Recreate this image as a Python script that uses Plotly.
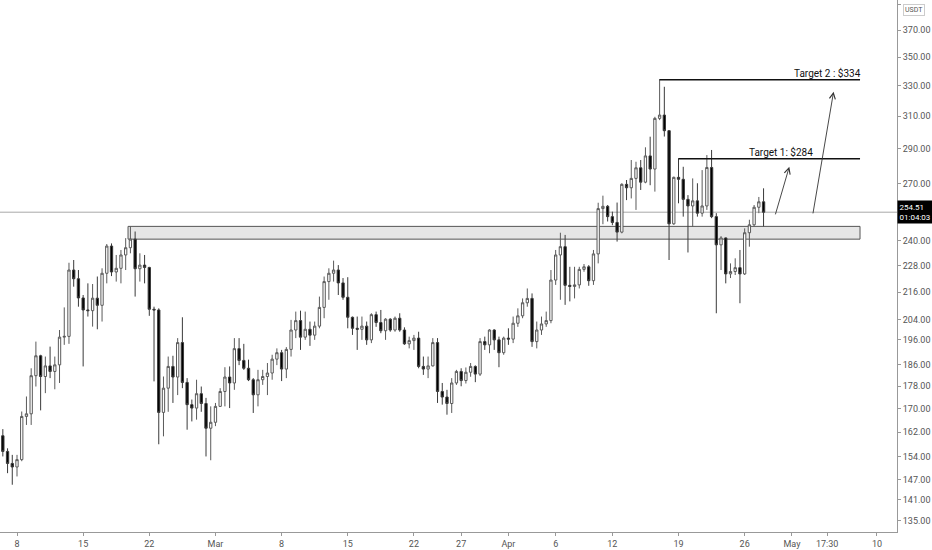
import numpy as np
import pandas as pd
import plotly.graph_objects as go

# 12h-Kerzen, erste sichtbare Kerze 6. Feb 2021 12:00
start = "2021-02-06 12:00"

opens = [160.8, 155.7, 151.9, 150.8, 153.1, 167.3, 168.2, 181.9, 189.5, 181.6,
         185.6, 183.5, 186.0, 196.9, 197.2, 226.0, 222.0, 213.4, 208.2, 207.9,
         213.3, 210.2, 224.5, 237.4, 225.1, 226.8, 233.1, 236.6, 240.8, 226.6,
         228.3, 227.2, 208.5, 208.2, 168.7, 177.3, 185.4, 181.4, 194.7, 179.4,
         171.4, 170.2, 175.3, 171.8, 163.3, 165.3, 170.8, 176.1, 181.4, 179.2,
         192.3, 187.7, 184.7, 180.4, 174.9, 180.4, 181.6, 182.9, 188.2, 190.7,
         184.4, 192.0, 199.8, 203.7, 196.9, 200.1, 197.7, 201.4, 209.3, 220.7,
         224.5, 226.0, 220.1, 213.7, 205.1, 200.5, 200.1, 201.4, 195.8, 206.2,
         202.9, 199.5, 204.3, 199.8, 204.7, 199.8, 194.2, 195.5, 196.5, 185.4,
         184.4, 185.6, 194.7, 176.1, 174.1, 171.8, 179.2, 183.5, 180.1, 183.2,
         185.4, 182.5, 195.1, 193.8, 199.8, 195.8, 190.7, 196.5, 196.1, 202.6,
         205.7, 211.3, 213.2, 195.1, 199.8, 202.3, 203.7, 221.4, 233.1, 237.1,
         219.0, 218.5, 219.2, 226.3, 227.5, 221.1, 233.6, 256.4, 257.6, 252.2,
         249.2, 244.3, 269.5, 267.6, 272.8, 278.8, 270.7, 285.7, 278.1, 308.6,
         310.7, 300.9, 248.5, 273.4, 272.3, 261.3, 257.8, 260.5, 254.0, 257.8,
         279.0, 252.2, 238.0, 241.4, 224.2, 225.3, 227.1, 224.2, 244.0, 248.0,
         257.1, 260.0]

highs = [163.0, 156.7, 154.6, 154.6, 169.0, 174.3, 184.7, 195.1, 189.9, 189.2,
         193.1, 189.2, 199.8, 209.3, 229.4, 230.7, 226.0, 214.7, 219.9, 219.6,
         223.0, 226.8, 238.4, 238.7, 233.1, 235.5, 241.3, 247.2, 244.6, 233.9,
         233.1, 227.5, 209.6, 208.9, 181.6, 189.2, 189.5, 196.5, 205.1, 181.0,
         173.2, 180.4, 177.9, 173.8, 170.8, 172.0, 177.3, 185.1, 185.4, 196.5,
         196.5, 194.2, 188.0, 181.0, 184.1, 184.1, 186.7, 189.9, 192.4, 191.8,
         192.9, 204.0, 207.5, 207.9, 207.5, 203.3, 203.3, 214.0, 223.0, 226.8,
         230.4, 228.3, 222.3, 222.7, 205.4, 205.4, 205.4, 203.3, 206.8, 207.5,
         208.2, 204.7, 204.7, 205.4, 206.8, 200.9, 197.1, 197.8, 199.1, 189.2,
         189.2, 196.5, 196.5, 179.2, 176.7, 181.0, 184.1, 184.7, 185.0, 186.7,
         185.8, 196.5, 197.1, 200.1, 200.1, 197.1, 197.1, 200.5, 205.4, 208.9,
         213.2, 217.6, 215.4, 203.3, 205.4, 207.5, 226.0, 235.5, 244.0, 242.9,
         227.5, 227.5, 227.5, 228.8, 228.3, 235.5, 259.5, 263.3, 258.3, 254.8,
         259.6, 270.1, 271.9, 283.3, 282.3, 283.3, 290.8, 297.2, 309.6, 334.5,
         329.3, 301.3, 273.8, 284.3, 279.4, 263.6, 272.8, 270.1, 277.5, 286.2,
         289.2, 254.0, 242.3, 241.6, 229.1, 231.5, 235.5, 246.2, 250.6, 258.3,
         262.6, 267.3]

lows = [154.1, 148.9, 145.4, 147.9, 152.6, 164.4, 164.4, 177.9, 169.4, 175.5,
        181.0, 176.9, 179.2, 193.8, 194.2, 218.4, 209.6, 185.4, 205.4, 201.2,
        200.1, 203.3, 219.9, 223.2, 220.7, 219.9, 226.0, 233.9, 214.0, 220.7,
        219.9, 205.7, 179.8, 158.0, 160.6, 168.9, 172.0, 174.8, 177.3, 162.8,
        165.6, 166.2, 168.9, 154.1, 152.9, 164.0, 170.6, 170.8, 170.2, 176.7,
        185.9, 184.1, 179.9, 168.5, 170.8, 178.5, 174.8, 180.4, 185.9, 179.9,
        181.0, 189.2, 196.5, 191.8, 195.8, 193.4, 195.8, 200.5, 204.7, 212.6,
        220.7, 214.7, 212.6, 200.5, 197.8, 191.8, 195.8, 193.8, 194.5, 201.1,
        198.5, 195.8, 199.1, 199.1, 199.1, 193.8, 192.4, 191.8, 184.7, 182.2,
        181.0, 185.4, 172.0, 171.4, 167.9, 168.5, 178.5, 178.0, 179.0, 181.5,
        179.5, 181.8, 191.8, 190.5, 191.8, 185.1, 189.9, 193.8, 194.5, 201.1,
        204.7, 209.6, 193.0, 192.4, 197.8, 201.1, 202.6, 219.2, 212.6, 210.4,
        211.9, 213.2, 217.6, 225.2, 218.8, 219.2, 229.1, 248.3, 249.7, 247.8,
        239.6, 243.7, 260.9, 261.8, 255.7, 266.4, 270.1, 269.0, 265.5, 307.5,
        297.3, 230.7, 248.0, 259.2, 252.2, 234.3, 247.0, 252.2, 252.2, 255.7,
        251.4, 206.8, 226.0, 219.9, 222.3, 223.7, 211.1, 223.7, 237.1, 247.2,
        254.0, 247.2]

closes = [155.7, 151.9, 150.8, 153.1, 167.3, 168.2, 181.9, 189.5, 181.6, 185.6,
          183.5, 186.0, 196.9, 197.2, 226.0, 222.0, 213.4, 208.2, 207.9, 213.3,
          210.2, 224.5, 237.4, 225.1, 226.8, 233.1, 236.6, 240.8, 226.6, 228.3,
          227.2, 208.5, 208.2, 168.7, 177.3, 185.4, 181.4, 194.7, 179.4, 171.4,
          170.2, 175.3, 171.8, 163.3, 165.3, 170.8, 176.1, 181.4, 179.2, 192.3,
          187.7, 184.7, 180.4, 174.9, 180.4, 181.6, 182.9, 188.2, 190.7, 184.4,
          192.0, 199.8, 203.7, 196.9, 200.1, 197.7, 201.4, 209.3, 220.7, 224.5,
          226.0, 220.1, 213.7, 205.1, 200.5, 200.1, 201.4, 195.8, 206.2, 202.9,
          199.5, 204.3, 199.8, 204.7, 199.8, 194.2, 195.5, 196.5, 185.4, 184.4,
          185.6, 194.7, 176.1, 174.1, 171.8, 179.2, 183.5, 180.1, 183.2, 185.4,
          182.5, 195.1, 193.8, 199.8, 195.8, 190.7, 196.5, 196.1, 202.6, 205.7,
          211.3, 213.2, 195.1, 199.8, 202.3, 203.7, 221.4, 233.1, 237.1, 219.0,
          218.5, 219.2, 226.3, 227.5, 221.1, 233.6, 256.4, 257.6, 252.2, 249.2,
          244.3, 269.5, 267.6, 272.8, 278.8, 270.7, 285.7, 278.1, 308.6, 310.7,
          300.9, 248.5, 273.4, 272.3, 261.3, 257.8, 260.5, 254.0, 257.8, 279.0,
          252.2, 238.0, 241.4, 224.2, 225.3, 227.1, 224.2, 244.0, 248.0, 257.1,
          260.0, 254.51]

times = pd.date_range(start, periods=len(closes), freq="12h")

# Achsenbeschriftungen
y_ticks = [135, 141, 147, 154, 162, 170, 178, 186, 196, 204, 216, 228, 240,
           270, 290, 310, 330, 350, 370, 390]
x_tick_dates = ["2021-02-08", "2021-02-15", "2021-02-22", "2021-03-01",
                "2021-03-08", "2021-03-15", "2021-03-22", "2021-03-27",
                "2021-04-01", "2021-04-06", "2021-04-12", "2021-04-19",
                "2021-04-26", "2021-05-01", "2021-05-04 17:30", "2021-05-10"]
x_tick_text = ["8", "15", "22", "Mar", "8", "15", "22", "27", "Apr", "6",
               "12", "19", "26", "May", "17:30", "10"]

# Zeichnungen
last_price = 254.51
countdown = "01:04:03"
zone_low, zone_high = 240.8, 247.2
zone_start, zone_end = "2021-02-19 18:00", "2021-05-08 05:00"
target1, target1_start = 284, "2021-04-19 00:00"
target2, target2_start = 334, "2021-04-17 00:00"
arrows = [  # (Start, Startpreis, Spitze, Spitzenpreis)
    ("2021-04-29 05:00", 252.6, "2021-04-30 17:20", 279.4),
    ("2021-05-03 04:50", 253.1, "2021-05-05 09:50", 326.0),
]

font_family = "Liberation Sans Narrow, Roboto, sans-serif"

fig = go.Figure()
fig.add_trace(go.Candlestick(
    x=times, open=opens, high=highs, low=lows, close=closes,
    increasing=dict(line=dict(color="#5a5a5a", width=1), fillcolor="#ffffff"),
    decreasing=dict(line=dict(color="#3a3a3a", width=1), fillcolor="#000000"),
    whiskerwidth=0, hoverinfo="skip", showlegend=False))

shapes = [
    dict(type="rect", xref="x", yref="y", x0=zone_start, x1=zone_end,
         y0=zone_low, y1=zone_high, fillcolor="#e6e6e6",
         line=dict(color="#555555", width=1), layer="below"),
    dict(type="line", xref="paper", yref="y", x0=0, x1=1,
         y0=last_price, y1=last_price, line=dict(color="#a8a8a8", width=1),
         layer="below"),
    dict(type="line", xref="x", yref="y", x0=target1_start, x1=zone_end,
         y0=target1, y1=target1, line=dict(color="#111111", width=1.5)),
    dict(type="line", xref="x", yref="y", x0=target2_start, x1=zone_end,
         y0=target2, y1=target2, line=dict(color="#111111", width=1.5)),
]

annotations = [
    dict(x=zone_end, y=np.log10(target2), xref="x", yref="y", text="Target 2 : $334",
         showarrow=False, xanchor="right", yanchor="bottom", xshift=3, yshift=-1,
         font=dict(size=10, color="#111111", family=font_family)),
    dict(x="2021-04-29 20:00", y=np.log10(target1), xref="x", yref="y",
         text="Target 1: $284", showarrow=False, xanchor="center",
         yanchor="bottom", yshift=-1,
         font=dict(size=10, color="#111111", family=font_family)),
    dict(x=1.0, y=np.log10(last_price), xref="paper", yref="y",
         text=f"{last_price:.2f}<br>{countdown}", showarrow=False,
         xanchor="left", yanchor="middle", align="left", bgcolor="#000000",
         borderpad=1.5, font=dict(size=8, color="#ffffff", family=font_family)),
    dict(x=1.019, y=0.981, xref="paper", yref="paper", text="USDT",
         showarrow=False, xanchor="center", yanchor="middle", bgcolor="#ffffff",
         bordercolor="#cccccc", borderwidth=1, borderpad=1,
         font=dict(size=7, color="#555555", family=font_family)),
]
for x0, p0, x1, p1 in arrows:
    annotations.append(dict(
        x=x1, y=np.log10(p1), ax=x0, ay=np.log10(p0), xref="x", yref="y",
        axref="x", ayref="y", text="", showarrow=True, arrowhead=5,
        arrowsize=1.3, arrowwidth=0.9, arrowcolor="#333333", standoff=0))

fig.update_layout(
    width=932, height=550,
    margin=dict(l=0, r=35, t=0, b=18),
    paper_bgcolor="#ffffff", plot_bgcolor="#ffffff",
    shapes=shapes, annotations=annotations,
    showlegend=False,
    xaxis=dict(
        type="date", range=["2021-02-06 04:49", "2021-05-12 02:53"],
        rangeslider=dict(visible=False), showgrid=False, zeroline=False,
        tickmode="array", tickvals=x_tick_dates, ticktext=x_tick_text,
        ticks="outside", ticklen=3, tickcolor="#999999",
        showline=True, linecolor="#999999", linewidth=1,
        tickfont=dict(size=9, color="#555555", family=font_family)),
    yaxis=dict(
        type="log", range=[2.1204, 2.5950], side="right",
        showgrid=False, zeroline=False,
        tickmode="array", tickvals=y_ticks,
        ticktext=[f"{v:.2f}" for v in y_ticks],
        ticks="outside", ticklen=3, tickcolor="#999999",
        showline=True, linecolor="#999999", linewidth=1,
        tickfont=dict(size=9, color="#555555", family=font_family)),
)

# Seitenrand des Browsers entfernen, damit die Grafik bei 0,0 beginnt
fig.write_html("out.html", config={"displayModeBar": False},
               post_script="document.body.style.margin='0';")
